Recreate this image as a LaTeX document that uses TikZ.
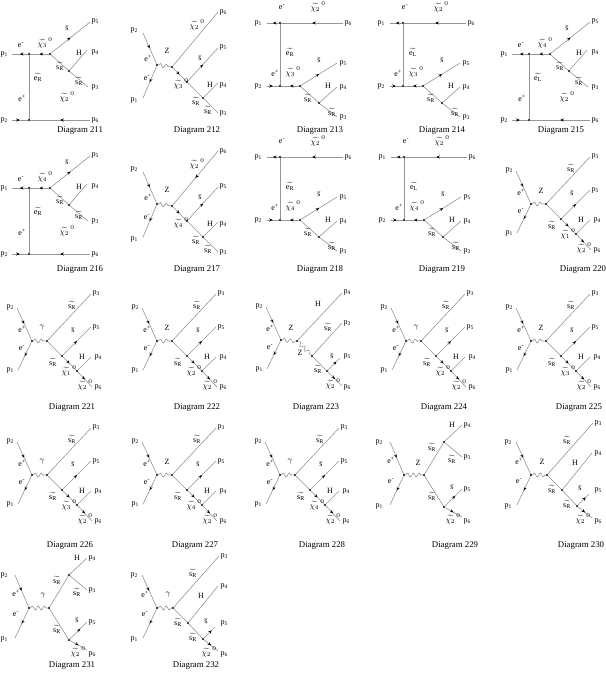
\documentclass[tikz,border=0pt]{standalone}
\usepackage{fontspec}
\setmainfont{Liberation Serif}
\usetikzlibrary{arrows.meta,decorations.markings,decorations.pathmorphing}
\definecolor{lc}{RGB}{150,150,150}
\newcommand\labfont{\fontsize{8}{9}\selectfont}
\newcommand\capfont{\fontsize{8.8}{10}\selectfont}
\newcommand\plab[1]{p\kern0.1pt\raisebox{-0.4ex}{\fontsize{5.5}{6}\selectfont #1}}
\newcommand\chl[1]{$\widetilde{\chi_{#1}}^{\,0}$}
\newcommand\sRl{$\widetilde{\mathrm{s}_{\mathrm{R}}}$}
\newcommand\eTl[1]{$\widetilde{\mathrm{e}_{\mathrm{#1}}}$}
\newcommand\sbl{$\bar{\mathrm{s}}$}
\newcommand\elm{e\textsuperscript{-}}
\newcommand\elp{e\textsuperscript{+}}
\tikzset{
  ln/.style={draw=lc, line width=0.6pt},
  fer/.style={postaction={decorate,decoration={markings,mark=at position #1 with {\arrow[black]{Stealth[length=3.6pt,width=3pt]}}}}},
  fer/.default=0.5,
  bos/.style={draw=lc, line width=0.6pt, decorate, decoration={snake, segment length=6pt, amplitude=2pt}},
  vtx/.style={circle, fill=black, inner sep=0pt, minimum size=2.3pt},
  lab/.style={inner sep=0pt, font=\labfont},
  captn/.style={inner sep=0pt, font=\capfont}
}
% ---------- T1 : t-channel, chain on top (211) ----------
\newcommand\DiagTone[5]{%
\begin{scope}[shift={(#2,#3)},name prefix=#1-]
 \coordinate (l1) at (12,54);
 \node[vtx] (A) at (29,54) {};
 \node[vtx] (B) at (50,54) {};
 \coordinate (p5e) at (90,22);
 \node[vtx] (C) at (69,71) {};
 \coordinate (p4e) at (87,50);
 \coordinate (p3e) at (88,87);
 \coordinate (l2) at (12,120);
 \node[vtx] (D) at (29,120) {};
 \coordinate (p6e) at (90,120);
 \draw[ln,fer] (B) -- (A);
 \draw[ln,fer] (A) -- (l1);
 \draw[ln,fer] (B) -- (p5e);
 \draw[ln] (B) -- (C);
 \draw[ln] (C) -- (p4e);
 \draw[ln] (C) -- (p3e);
 \draw[ln] (A) -- (D);
 \draw[ln,fer] (l2) -- (D);
 \draw[ln,fer] (p6e) -- (D);
 \node[lab] (t1) at (4,54) {\plab1};
 \node[lab] (t2) at (4,120) {\plab2};
 \node[lab] (t5) at (95,21) {\plab5};
 \node[lab] (t4) at (95,52) {\plab4};
 \node[lab] (t3) at (95,87) {\plab3};
 \node[lab] (t6) at (95,120) {\plab6};
 \node[lab] (em) at (21,45) {\elm};
 \node[lab] (ep) at (22,98) {\elp};
 \node[lab] (ch) at (45,43) {\chl{#4}};
 \node[lab] (c2) at (67,97) {\chl2};
 \node[lab] (sb) at (67,28) {\sbl};
 \node[lab] (H) at (79,53) {H};
 \node[lab] (s1) at (60,66) {\sRl};
 \node[lab] (s2) at (79,81) {\sRl};
 \node[lab] (ee) at (38,77) {\eTl{#5}};
\end{scope}}
% ---------- T2 : t-channel, chain at bottom (213) ----------
\newcommand\DiagTtwo[5]{%
\begin{scope}[shift={(#2,#3)},name prefix=#1-]
 \coordinate (l1) at (267,23);
 \node[vtx] (A) at (280,23) {};
 \coordinate (p6e) at (343,23);
 \coordinate (l2) at (267,86);
 \node[vtx] (D) at (280,86) {};
 \node[vtx] (B) at (300,86) {};
 \coordinate (p5e) at (337,63);
 \node[vtx] (C) at (319,103) {};
 \coordinate (p4e) at (337,87);
 \coordinate (p3e) at (337,117);
 \draw[ln,fer] (A) -- (l1);
 \draw[ln,fer] (p6e) -- (A);
 \draw[ln] (A) -- (D);
 \draw[ln,fer] (l2) -- (D);
 \draw[ln,fer] (B) -- (D);
 \draw[ln,fer] (B) -- (p5e);
 \draw[ln] (B) -- (C);
 \draw[ln] (C) -- (p4e);
 \draw[ln] (C) -- (p3e);
 \node[lab] (t1) at (258,23) {\plab1};
 \node[lab] (t6) at (348,23) {\plab6};
 \node[lab] (t2) at (258,86) {\plab2};
 \node[lab] (t5) at (343,63) {\plab5};
 \node[lab] (t4) at (343,87) {\plab4};
 \node[lab] (t3) at (343,117) {\plab3};
 \node[lab] (em) at (282,7) {\elm};
 \node[lab] (c2) at (318,7) {\chl2};
 \node[lab] (ee) at (290,52) {\eTl{#5}};
 \node[lab] (ep) at (275,73) {\elp};
 \node[lab] (ch) at (293,72) {\chl{#4}};
 \node[lab] (sb) at (319,60) {\sbl};
 \node[lab] (H) at (328,86) {H};
 \node[lab] (s1) at (308,98) {\sRl};
 \node[lab] (s2) at (332,112) {\sRl};
\end{scope}}
% ---------- S1 : s-channel, chi chain (212) ----------
\newcommand\DiagSone[5]{%
\begin{scope}[shift={(#2,#3)},name prefix=#1-]
 \coordinate (p2e) at (143,33);
 \node[vtx] (V1) at (157,65) {};
 \coordinate (p1e) at (143,98);
 \node[vtx] (V2) at (172,67) {};
 \coordinate (p6e) at (218,12);
 \node[vtx] (V3) at (187,82) {};
 \coordinate (p5e) at (218,48);
 \node[vtx] (V4) at (203,98) {};
 \coordinate (p4e) at (218,83);
 \coordinate (p3e) at (218,113);
 \draw[ln,fer] (p2e) -- (V1);
 \draw[ln,fer] (V1) -- (p1e);
 \draw[bos] (V1) -- (V2);
 \draw[#5] (p6e) -- (V2);
 \draw[ln,fer] (V2) -- (V3);
 \draw[ln,fer] (V3) -- (p5e);
 \draw[ln] (V3) -- (V4);
 \draw[ln] (V4) -- (p4e);
 \draw[ln] (V4) -- (p3e);
 \node[lab] (t2) at (134,30) {\plab2};
 \node[lab] (t1) at (134,100) {\plab1};
 \node[lab] (ep) at (148,58) {\elp};
 \node[lab] (em) at (147,78) {\elm};
 \node[lab] (bz) at (167,51) {Z};
 \node[lab] (c2) at (197,25) {\chl2};
 \node[lab] (t6) at (223,12) {\plab6};
 \node[lab] (ch) at (181,84) {\chl{#4}};
 \node[lab] (sb) at (200,58) {\sbl};
 \node[lab] (t5) at (223,47) {\plab5};
 \node[lab] (s1) at (196,101) {\sRl};
 \node[lab] (H) at (210,85) {H};
 \node[lab] (t4) at (223,85) {\plab4};
 \node[lab] (s2) at (208,110) {\sRl};
 \node[lab] (t3) at (223,113) {\plab3};
\end{scope}}
% ---------- S2 : s-channel, squark first (221) ----------
\newcommand\DiagStwo[5]{%
\begin{scope}[shift={(#2,#3)},name prefix=#1-]
 \coordinate (p2e) at (17,308);
 \node[vtx] (V1) at (32,341) {};
 \coordinate (p1e) at (18,370);
 \node[vtx] (V2) at (47,341) {};
 \coordinate (p3e) at (91,294);
 \node[vtx] (V3) at (62,356) {};
 \coordinate (p5e) at (91,327);
 \node[vtx] (V4) at (77,371) {};
 \coordinate (p4e) at (91,357);
 \coordinate (p6e) at (92,387);
 \draw[ln,fer] (p2e) -- (V1);
 \draw[ln,fer] (V1) -- (p1e);
 \draw[bos] (V1) -- (V2);
 \draw[ln] (V2) -- (p3e);
 \draw[ln] (V2) -- (V3);
 \draw[ln,fer] (V3) -- (p5e);
 \draw[ln,fer] (V3) -- (V4);
 \draw[ln] (V4) -- (p4e);
 \draw[ln,fer] (V4) -- (p6e);
 \node[lab] (t2) at (10,307) {\plab2};
 \node[lab] (t1) at (10,370) {\plab1};
 \node[lab] (ep) at (22,329) {\elp};
 \node[lab] (em) at (22,348) {\elm};
 \node[lab] (bz) at (42,328) {#4};
 \node[lab] (s1) at (72,305) {\sRl};
 \node[lab] (s2) at (53,362) {\sRl};
 \node[lab] (sb) at (73,330) {\sbl};
 \node[lab] (H) at (82,357) {H};
 \node[lab] (t3) at (96,293) {\plab3};
 \node[lab] (t5) at (96,327) {\plab5};
 \node[lab] (t4) at (98,357) {\plab4};
 \node[lab] (t6) at (98,387) {\plab6};
 \node[lab] (ch) at (69,371) {\chl{#5}};
 \node[lab] (c2) at (85,385) {\chl2};
\end{scope}}
% ---------- S4 : s-channel, two squarks (229) ----------
\newcommand\DiagSfour[4]{%
\begin{scope}[shift={(#2,#3)},name prefix=#1-]
 \coordinate (p2e) at (390,442);
 \node[vtx] (V1) at (404,475) {};
 \coordinate (p1e) at (390,505);
 \node[vtx] (V2) at (424,475) {};
 \node[vtx] (V3) at (444,442) {};
 \coordinate (p4e) at (462,425);
 \coordinate (p3e) at (462,457);
 \node[vtx] (V4) at (444,507) {};
 \coordinate (p5e) at (462,489);
 \coordinate (p6e) at (462,517);
 \draw[ln,fer] (p2e) -- (V1);
 \draw[ln,fer] (V1) -- (p1e);
 \draw[bos] (V1) -- (V2);
 \draw[ln] (V2) -- (V3);
 \draw[ln] (V3) -- (p4e);
 \draw[ln] (V3) -- (p3e);
 \draw[ln] (V2) -- (V4);
 \draw[ln,fer=0.6] (V4) -- (p5e);
 \draw[ln,fer] (V4) -- (p6e);
 \node[lab] (t2) at (379,442) {\plab2};
 \node[lab] (t1) at (379,506) {\plab1};
 \node[lab] (ep) at (391,460) {\elp};
 \node[lab] (em) at (391,481) {\elm};
 \node[lab] (bz) at (418,463) {#4};
 \node[lab] (s1) at (432,447) {\sRl};
 \node[lab] (H) at (452,425) {H};
 \node[lab] (t4) at (467,425) {\plab4};
 \node[lab] (s2) at (452,459) {\sRl};
 \node[lab] (t3) at (467,457) {\plab3};
 \node[lab] (s3) at (432,496) {\sRl};
 \node[lab] (sb) at (452,487) {\sbl};
 \node[lab] (t5) at (467,489) {\plab5};
 \node[lab] (c2) at (453,519) {\chl2};
 \node[lab] (t6) at (467,521) {\plab6};
\end{scope}}
% ---------- S5 : s-channel, squark cascade (230) ----------
\newcommand\DiagSfive[4]{%
\begin{scope}[shift={(#2,#3)},name prefix=#1-]
 \coordinate (p2e) at (516,442);
 \node[vtx] (V1) at (531,475) {};
 \coordinate (p1e) at (517,505);
 \node[vtx] (V2) at (547,475) {};
 \coordinate (p3e) at (593,423);
 \node[vtx] (V3) at (562,490) {};
 \coordinate (p4e) at (592,453);
 \node[vtx] (V4) at (577,506) {};
 \coordinate (p5e) at (589,494);
 \coordinate (p6e) at (592,518);
 \draw[ln,fer] (p2e) -- (V1);
 \draw[ln,fer] (V1) -- (p1e);
 \draw[bos] (V1) -- (V2);
 \draw[ln] (V2) -- (p3e);
 \draw[ln] (V2) -- (V3);
 \draw[ln] (V3) -- (p4e);
 \draw[ln] (V3) -- (V4);
 \draw[ln,fer=0.7] (V4) -- (p5e);
 \draw[ln,fer] (V4) -- (p6e);
 \node[lab] (t2) at (508,442) {\plab2};
 \node[lab] (t1) at (508,506) {\plab1};
 \node[lab] (ep) at (519,461) {\elp};
 \node[lab] (em) at (519,481) {\elm};
 \node[lab] (bz) at (542,462) {#4};
 \node[lab] (s1) at (567,440) {\sRl};
 \node[lab] (t3) at (598,423) {\plab3};
 \node[lab] (s2) at (552,489) {\sRl};
 \node[lab] (H) at (575,463) {H};
 \node[lab] (t4) at (598,453) {\plab4};
 \node[lab] (s3) at (567,504) {\sRl};
 \node[lab] (sb) at (580,488) {\sbl};
 \node[lab] (t5) at (598,490) {\plab5};
 \node[lab] (c2) at (583,519) {\chl2};
 \node[lab] (t6) at (598,521) {\plab6};
\end{scope}}
\begin{document}
\begin{tikzpicture}[x=1pt,y=-1pt]
\fill[white] (0,0) rectangle (605,676);
\useasboundingbox (0,0) rectangle (605,676);
% row 1
\DiagTone{d211}{0}{0}{3}{R}
\DiagSone{d212}{0}{0}{3}{ln}
\DiagTtwo{d213}{0}{0}{3}{R}
\DiagTtwo{d214}{123}{0}{3}{L}
\DiagTone{d215}{500}{0}{4}{L}
% row 2
\DiagTone{d216}{0}{134}{4}{R}
\DiagSone{d217}{0}{139}{4}{ln,fer}
\DiagTtwo{d218}{0}{134}{4}{R}
\DiagTtwo{d219}{124}{134}{4}{L}
\DiagStwo{d220}{499}{-137}{Z}{1}
% row 3
\DiagStwo{d221}{0}{0}{$\gamma$}{1}
\DiagStwo{d222}{125}{0}{Z}{2}
\begin{scope}[name prefix=d223-]
 \coordinate (p2e) at (266,307);
 \node[vtx] (V1) at (281,340) {};
 \coordinate (p1e) at (267,369);
 \node[vtx] (V2) at (297,341) {};
 \coordinate (p4e) at (342,293);
 \node[vtx] (V3) at (312,356) {};
 \coordinate (p3e) at (342,323);
 \node[vtx] (V4) at (327,371) {};
 \coordinate (p5e) at (340,358);
 \coordinate (p6e) at (342,386);
 \draw[ln,fer] (p2e) -- (V1);
 \draw[ln,fer] (V1) -- (p1e);
 \draw[bos] (V1) -- (V2);
 \draw[ln] (V2) -- (p4e);
 \draw[bos] (V2) -- (V3);
 \draw[ln] (V3) -- (p3e);
 \draw[ln] (V3) -- (V4);
 \draw[ln,fer=0.7] (V4) -- (p5e);
 \draw[ln,fer] (V4) -- (p6e);
 \node[lab] (t2) at (259,306) {\plab2};
 \node[lab] (t1) at (259,369) {\plab1};
 \node[lab] (ep) at (270,328) {\elp};
 \node[lab] (em) at (270,347) {\elm};
 \node[lab] (bz) at (291,328) {Z};
 \node[lab] (bz2) at (300,353) {Z};
 \node[lab] (H) at (318,304) {H};
 \node[lab] (t4) at (347,292) {\plab4};
 \node[lab] (s1) at (328,327) {\sRl};
 \node[lab] (t3) at (347,323) {\plab3};
 \node[lab] (sb) at (332,356) {\sbl};
 \node[lab] (t5) at (347,356) {\plab5};
 \node[lab] (s2) at (318,369) {\sRl};
 \node[lab] (c2) at (333,384) {\chl2};
 \node[lab] (t6) at (347,387) {\plab6};
\end{scope}
\DiagStwo{d224}{374}{0}{$\gamma$}{2}
\DiagStwo{d225}{499}{0}{Z}{3}
% row 4
\DiagStwo{d226}{0}{134}{$\gamma$}{3}
\DiagStwo{d227}{125}{134}{Z}{4}
\DiagStwo{d228}{248}{134}{$\gamma$}{4}
\DiagSfour{d229}{0}{0}{Z}
\DiagSfive{d230}{0}{0}{Z}
% row 5
\DiagSfour{d231}{-375}{133}{$\gamma$}
\DiagSfive{d232}{-374}{133}{$\gamma$}
% captions
\node[captn] (c211) at (80,131) {Diagram 211};
\node[captn] (c212) at (197,131) {Diagram 212};
\node[captn] (c213) at (320,131) {Diagram 213};
\node[captn] (c214) at (442,131) {Diagram 214};
\node[captn] (c215) at (561,131) {Diagram 215};
\node[captn] (c216) at (80,270) {Diagram 216};
\node[captn] (c217) at (197,270) {Diagram 217};
\node[captn] (c218) at (320,270) {Diagram 218};
\node[captn] (c219) at (442,270) {Diagram 219};
\node[captn] (c220) at (583,270) {Diagram 220};
\node[captn] (c221) at (72,408) {Diagram 221};
\node[captn] (c222) at (197,408) {Diagram 222};
\node[captn] (c223) at (316,408) {Diagram 223};
\node[captn] (c224) at (444,408) {Diagram 224};
\node[captn] (c225) at (579,408) {Diagram 225};
\node[captn] (c226) at (70,546) {Diagram 226};
\node[captn] (c227) at (195,546) {Diagram 227};
\node[captn] (c228) at (322,546) {Diagram 228};
\node[captn] (c229) at (455,546) {Diagram 229};
\node[captn] (c230) at (581,546) {Diagram 230};
\node[captn] (c231) at (72,666) {Diagram 231};
\node[captn] (c232) at (196,666) {Diagram 232};
\end{tikzpicture}
\end{document}
